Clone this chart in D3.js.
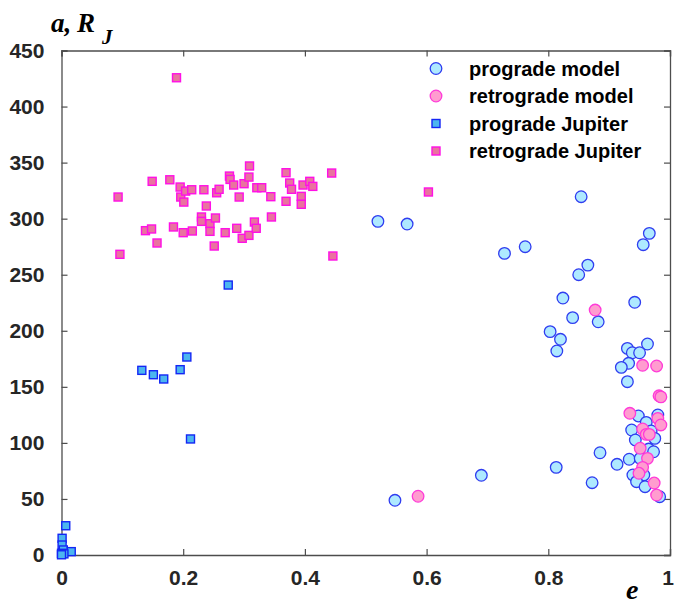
<!DOCTYPE html>
<html>
<head>
<meta charset="utf-8">
<script src="https://cdn.jsdelivr.net/npm/d3@7/dist/d3.min.js"></script>
<style>
  html, body { margin: 0; padding: 0; background: #fff; }
  svg { display: block; }
</style>
</head>
<body>
<svg id="chart" width="674" height="604"></svg>
<script>
// Semi-major axis (in Jupiter radii) versus eccentricity

// prograde model satellites: [e, a]
const progradeModel = [
  [0.520, 297.6], [0.568, 295.2], [0.728, 269], [0.762, 275], [0.854, 319.6],
  [0.966, 286.9], [0.956, 276.8], [0.865, 258.6], [0.850, 250], [0.824, 229.2],
  [0.942, 225.4], [0.840, 211.7], [0.882, 208], [0.803, 199.2], [0.820, 192.4],
  [0.814, 182], [0.963, 188.2], [0.930, 184.3], [0.938, 180.4], [0.950, 180.4],
  [0.932, 171], [0.920, 167.4], [0.930, 154.6], [0.948, 124], [0.980, 124.9],
  [0.961, 118.3], [0.937, 111.5], [0.969, 110.6], [0.975, 104], [0.943, 102.6],
  [0.965, 94.5], [0.973, 92.1], [0.885, 91.2], [0.913, 80.9], [0.933, 85.4],
  [0.951, 86.2], [0.939, 71.4], [0.957, 71.4], [0.945, 65.4], [0.959, 60.9],
  [0.983, 52], [0.872, 64.5], [0.813, 78.2], [0.690, 71.1], [0.548, 48.8]
];

// retrograde model satellites: [e, a]
const retrogradeModel = [
  [0.586, 52.4], [0.877, 218.5], [0.955, 169.2], [0.978, 168.6], [0.982, 142],
  [0.985, 141], [0.934, 126.4], [0.980, 121.9], [0.985, 116], [0.955, 112.4],
  [0.961, 107.6], [0.966, 107.6], [0.951, 95.2], [0.963, 86.2], [0.955, 78.2],
  [0.949, 72.9], [0.974, 64.2], [0.978, 53.5]
];

// observed prograde Jupiter satellites: [e, a]
const progradeJupiter = [
  [0.274, 240.8], [0.206, 176.6], [0.132, 164.7], [0.151, 160.8], [0.168, 157],
  [0.195, 165.3], [0.212, 103.5], [0.007, 26.1], [0.001, 14.9], [0.001, 8.9],
  [0.003, 4.5], [0.016, 3], [0.000, 1.5], [0.004, 1], [0.000, 0.2]
];

// observed retrograde Jupiter satellites: [e, a]
const retrogradeJupiter = [
  [0.189, 425.7], [0.093, 319.3], [0.096, 268.2], [0.149, 333.3], [0.178, 334.7],
  [0.195, 328.2], [0.196, 319.3], [0.201, 314.8], [0.204, 324.6], [0.214, 325.8],
  [0.234, 325.8], [0.238, 311.3], [0.255, 323.1], [0.259, 326.2], [0.276, 338],
  [0.277, 335], [0.283, 330], [0.292, 319.3], [0.300, 331.2], [0.309, 347],
  [0.308, 337.1], [0.321, 327.6], [0.329, 327.6], [0.344, 319.6], [0.369, 341],
  [0.375, 331.8], [0.378, 326.2], [0.369, 315.5], [0.394, 319.9], [0.394, 312.8],
  [0.397, 330], [0.408, 333.3], [0.413, 328.8], [0.444, 340.7], [0.446, 266.7],
  [0.603, 323.8], [0.138, 289.3], [0.148, 290.8], [0.157, 278.3], [0.184, 292.6],
  [0.200, 287.5], [0.215, 289], [0.230, 301.5], [0.230, 297.6], [0.244, 295.5],
  [0.244, 288.7], [0.253, 300.6], [0.251, 275.6], [0.269, 287.5], [0.288, 291.4],
  [0.297, 282.5], [0.308, 285.1], [0.317, 297], [0.320, 291.4], [0.345, 301.5]
];

const xTicks = [0, 0.2, 0.4, 0.6, 0.8, 1];
const xTickLabels = ["0", "0.2", "0.4", "0.6", "0.8", "1"];
const yTicks = [0, 50, 100, 150, 200, 250, 300, 350, 400, 450];

const legendLabels = ["prograde model", "retrograde model", "prograde Jupiter", "retrograde Jupiter"];

const styles = [
  { shape: "circle", fill: "#aee9ff", stroke: "#2f3df0" },
  { shape: "circle", fill: "#ff9ccf", stroke: "#ff3ad8" },
  { shape: "square", fill: "#4cb6ef", stroke: "#1426f5" },
  { shape: "square", fill: "#e9739f", stroke: "#ff10e6" }
];

const svg = d3.select("#chart");
const plotLeft = 61.5, plotRight = 670, plotTop = 50.5, plotBottom = 555;

const x = d3.scaleLinear().domain([0, 1]).range([plotLeft, plotRight]);
const y = d3.scaleLinear().domain([0, 450]).range([plotBottom, plotTop]);

const axisColor = "#4d4d4d";
const tickFont = "bold 21px 'Liberation Sans', Arial, sans-serif";

// Axes with inward ticks
const xAxis = d3.axisBottom(x).tickValues(xTicks).tickSize(-6)
  .tickFormat((d, i) => xTickLabels[i]).tickPadding(18);
const yAxis = d3.axisLeft(y).tickValues(yTicks).tickSize(-6).tickPadding(16);

const gx = svg.append("g").attr("transform", `translate(0,${plotBottom})`).call(xAxis);
const gy = svg.append("g").attr("transform", `translate(${plotLeft},0)`).call(yAxis);
const gxTop = svg.append("g").attr("transform", `translate(0,${plotTop})`)
  .call(d3.axisTop(x).tickValues(xTicks).tickSize(-6).tickFormat(""));
const gyRight = svg.append("g").attr("transform", `translate(${plotRight},0)`)
  .call(d3.axisRight(y).tickValues(yTicks).tickSize(-6).tickFormat(""));

[gx, gy, gxTop, gyRight].forEach(g => {
  g.select(".domain").attr("stroke", axisColor).attr("stroke-width", 1.3);
  g.selectAll(".tick line").attr("stroke", axisColor).attr("stroke-width", 1.2);
  g.selectAll(".tick text").attr("fill", "#262626").style("font", tickFont);
});
gx.selectAll(".tick text").attr("dy", "0.55em");
gy.selectAll(".tick text").attr("dx", "-0.05em");
// keep the last x label inside the canvas
gx.selectAll(".tick text").filter((d, i) => i === xTicks.length - 1).attr("dx", "-0.12em");

// Markers
const plot = svg.append("g");
function drawSeries(data, st, r, side) {
  const g = plot.append("g");
  if (st.shape === "circle") {
    g.selectAll("circle").data(data).join("circle")
      .attr("cx", d => x(d[0])).attr("cy", d => y(d[1])).attr("r", r)
      .attr("fill", st.fill).attr("stroke", st.stroke).attr("stroke-width", 1.3);
  } else {
    g.selectAll("rect").data(data).join("rect")
      .attr("x", d => x(d[0]) - side / 2).attr("y", d => y(d[1]) - side / 2)
      .attr("width", side).attr("height", side)
      .attr("fill", st.fill).attr("stroke", st.stroke).attr("stroke-width", 1.4);
  }
}
drawSeries(progradeModel, styles[0], 5.8, 0);
drawSeries(retrogradeModel, styles[1], 5.8, 0);
drawSeries(progradeJupiter, styles[2], 0, 8);
drawSeries(retrogradeJupiter, styles[3], 0, 8);

// Legend
const legendRows = [68.5, 96, 123.5, 151];
const legend = svg.append("g");
legendLabels.forEach((lab, i) => {
  const st = styles[i], cy = legendRows[i], cx = 436;
  if (st.shape === "circle") {
    legend.append("circle").attr("cx", cx).attr("cy", cy).attr("r", 5.8)
      .attr("fill", st.fill).attr("stroke", st.stroke).attr("stroke-width", 1.3);
  } else {
    legend.append("rect").attr("x", cx - 4).attr("y", cy - 4).attr("width", 8).attr("height", 8)
      .attr("fill", st.fill).attr("stroke", st.stroke).attr("stroke-width", 1.4);
  }
  legend.append("text").attr("x", 469).attr("y", cy + 7)
    .style("font", "bold 20px 'Liberation Sans', Arial, sans-serif")
    .attr("fill", "#000").text(lab);
});

// Axis titles
const yTitle = svg.append("text").attr("y", 32)
  .style("font", "bold italic 27px 'Liberation Serif', 'Times New Roman', serif")
  .attr("fill", "#000");
yTitle.append("tspan").attr("x", 51).text("a,");
yTitle.append("tspan").attr("x", 77).text("R");
yTitle.append("tspan").attr("x", 102).attr("dy", 12).attr("font-size", "21px").text("J");

svg.append("text").attr("x", 626).attr("y", 599)
  .style("font", "bold italic 28px 'Liberation Serif', 'Times New Roman', serif")
  .attr("fill", "#000").text("e");
</script>
</body>
</html>
